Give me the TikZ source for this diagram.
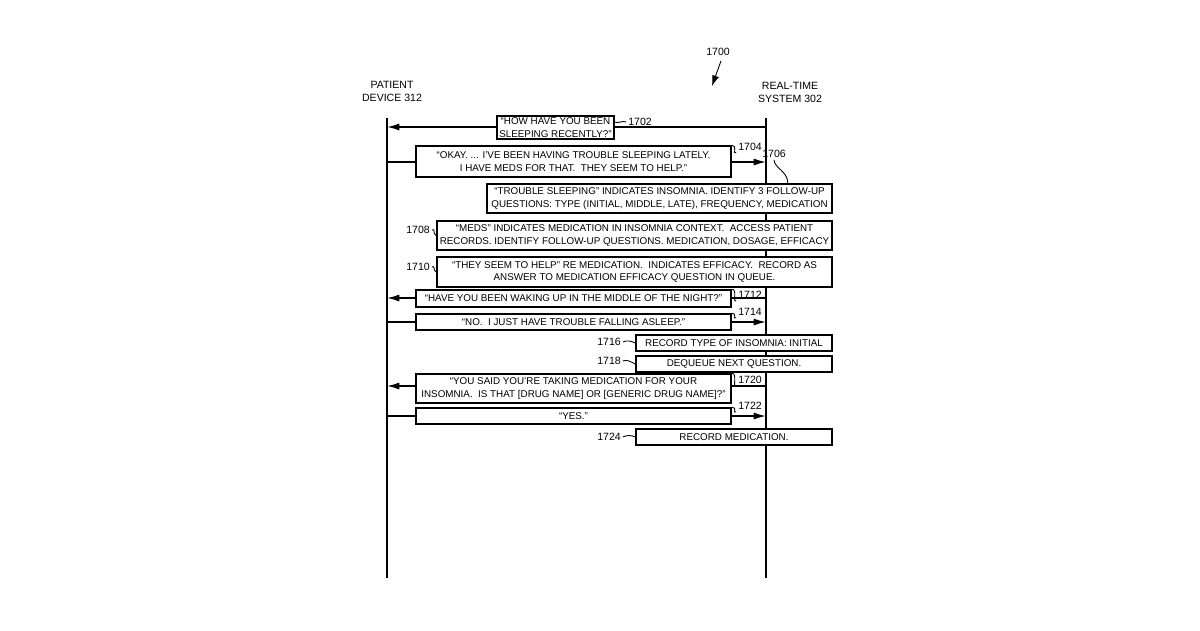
\documentclass[tikz,border=0pt]{standalone}
\usepackage{fontspec}
\setmainfont{Liberation Sans}
\usetikzlibrary{arrows.meta,positioning}
\tikzset{
	>=Latex,
	box/.style = {draw, fill=white, line width=0.9pt, align=center, inner sep=0pt,
			font=\fontsize{5.6}{7}\selectfont},
	ref/.style = {font=\fontsize{6}{7.4}\selectfont, inner sep=1pt},
	lead/.style = {line width=0.5pt},
	msg/.style = {line width=0.9pt, -{Latex[length=7pt,width=4pt]}},
}
\begin{document}
\begin{tikzpicture}[x=0.02cm,y=-0.02cm]
    \useasboundingbox (0,0) rectangle (1200,630);
    % lifelines
    \node[ref, align=center] (pd) at (392,91) {PATIENT\\DEVICE 312};
    \node[ref, align=center] (rt) at (790,92) {REAL-TIME\\SYSTEM 302};
    \coordinate (pdtop) at (387,118);
    \coordinate (pdbot) at (387,578);
    \coordinate (rttop) at (766,118);
    \coordinate (rtbot) at (766,578);
    \draw[line width=0.9pt] (pdtop) -- (pdbot);
    \draw[line width=0.9pt] (rttop) -- (rtbot);
    \node[ref] (n1700) at (718,52) {1700};
    \coordinate (p1700) at (712,86);
    \draw[lead, -{Latex[length=6pt,width=4pt]}] (n1700.south) ++(3,3) -- (p1700);

    % messages
    \coordinate (a1) at (766,127);  \coordinate (b1) at (387,127);
    \coordinate (a2) at (387,162);  \coordinate (b2) at (766,162);
    \coordinate (a3) at (766,298);  \coordinate (b3) at (387,298);
    \coordinate (a4) at (387,322);  \coordinate (b4) at (766,322);
    \coordinate (a5) at (766,386);  \coordinate (b5) at (387,386);
    \coordinate (a6) at (387,416);  \coordinate (b6) at (766,416);
    \foreach \s/\e in {a1/b1,a2/b2,a3/b3,a4/b4,a5/b5,a6/b6}
      \draw[msg] (\s) -- (\e);

    % boxes
    \node[box, minimum width=117*0.02cm, minimum height=23*0.02cm] (m1702) at (555.5,127.5) {``HOW HAVE YOU BEEN\\SLEEPING RECENTLY?''};
    \node[box, minimum width=315*0.02cm, minimum height=31*0.02cm] (m1704) at (573.5,161.5) {``OKAY. ... I'VE BEEN HAVING TROUBLE SLEEPING LATELY.\\I HAVE MEDS FOR THAT.\ \ THEY SEEM TO HELP.''};
    \node[box, minimum width=345*0.02cm, minimum height=29*0.02cm] (m1706) at (659.5,198.5) {``TROUBLE SLEEPING'' INDICATES INSOMNIA. IDENTIFY 3 FOLLOW-UP\\QUESTIONS: TYPE (INITIAL, MIDDLE, LATE), FREQUENCY, MEDICATION};
    \node[box, minimum width=395*0.02cm, minimum height=29*0.02cm] (m1708) at (634.5,235.5) {``MEDS'' INDICATES MEDICATION IN INSOMNIA CONTEXT.\ \ ACCESS PATIENT\\RECORDS. IDENTIFY FOLLOW-UP QUESTIONS. MEDICATION, DOSAGE, EFFICACY};
    \node[box, minimum width=395*0.02cm, minimum height=30*0.02cm] (m1710) at (634.5,272) {``THEY SEEM TO HELP'' RE MEDICATION.\ \ INDICATES EFFICACY.\ \ RECORD AS\\ANSWER TO MEDICATION EFFICACY QUESTION IN QUEUE.};
    \node[box, minimum width=315*0.02cm, minimum height=17*0.02cm] (m1712) at (573.5,298.5) {``HAVE YOU BEEN WAKING UP IN THE MIDDLE OF THE NIGHT?''};
    \node[box, minimum width=315*0.02cm, minimum height=16*0.02cm] (m1714) at (573.5,322) {``NO.\ \ I JUST HAVE TROUBLE FALLING ASLEEP.''};
    \node[box, minimum width=196*0.02cm, minimum height=16*0.02cm] (m1716) at (734,343) {RECORD TYPE OF INSOMNIA: INITIAL};
    \node[box, minimum width=196*0.02cm, minimum height=16*0.02cm] (m1718) at (734,364) {DEQUEUE NEXT QUESTION.};
    \node[box, minimum width=315*0.02cm, minimum height=29*0.02cm] (m1720) at (573.5,388.5) {``YOU SAID YOU'RE TAKING MEDICATION FOR YOUR\\INSOMNIA.\ \ IS THAT [DRUG NAME] OR [GENERIC DRUG NAME]?''};
    \node[box, minimum width=315*0.02cm, minimum height=16*0.02cm] (m1722) at (573.5,416) {``YES.''};
    \node[box, minimum width=196*0.02cm, minimum height=16*0.02cm] (m1724) at (734,437) {RECORD MEDICATION.};

    % reference numerals
    \node[ref] (r1702) at (640,122) {1702};
    \node[ref] (r1704) at (750,147) {1704};
    \node[ref] (r1706) at (774,154) {1706};
    \node[ref] (r1708) at (418,230) {1708};
    \node[ref] (r1710) at (418,267) {1710};
    \node[ref] (r1712) at (750,295) {1712};
    \node[ref] (r1714) at (750,312) {1714};
    \node[ref] (r1716) at (609,342) {1716};
    \node[ref] (r1718) at (609,361) {1718};
    \node[ref] (r1720) at (750,380) {1720};
    \node[ref] (r1722) at (750,406) {1722};
    \node[ref] (r1724) at (609,437) {1724};
    \draw[lead] (r1702.west) .. controls ++(-3,-2) and ++(3,2) .. (m1702.east |- r1702);
    \draw[lead] (r1706.south) .. controls ++(0,8) and ++(0,-12) .. (m1706.north -| r1706.east);
    \foreach \r in {1704,1712,1714,1720,1722}
      \draw[lead] (r\r.south west) .. controls ++(-4,2) and ++(6,0) .. (m\r.north east);
    \foreach \r in {1708,1710,1716,1718,1724}
      \draw[lead] (r\r.east) .. controls ++(4,-2) and ++(-4,-2) .. (m\r.west);
  \end{tikzpicture}
\end{document}
